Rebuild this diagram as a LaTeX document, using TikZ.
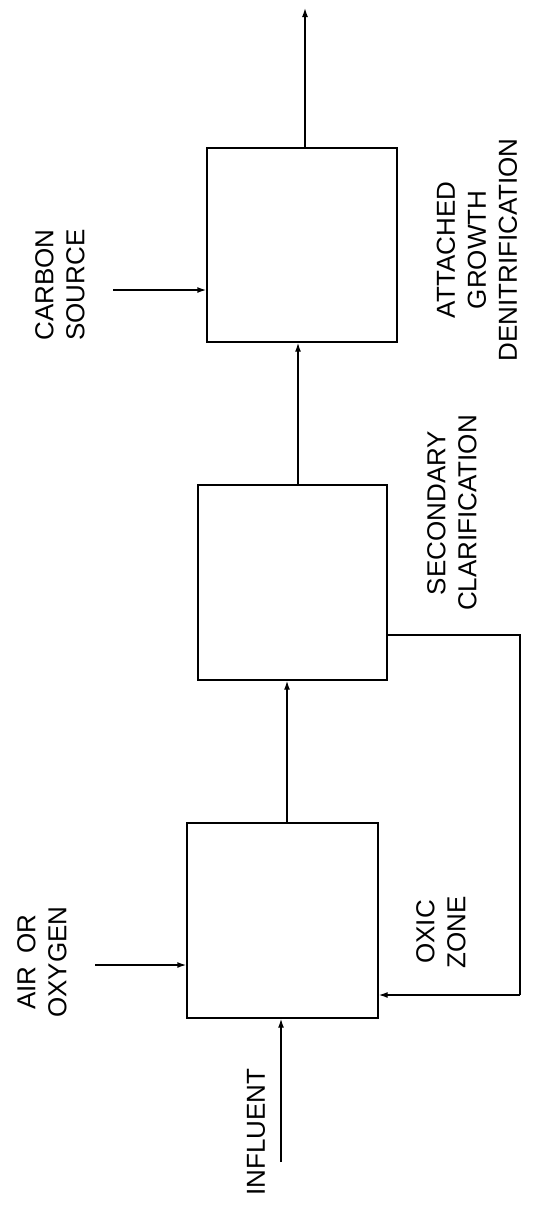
\documentclass[tikz,border=0pt]{standalone}
\usepackage{fontspec}
\setmainfont{Liberation Sans}
\usetikzlibrary{arrows.meta,calc}
\begin{document}
\begin{tikzpicture}[x=1pt,y=-1pt,
  unit/.style={draw,line width=1.4pt,inner sep=0pt},
  lbl/.style={rotate=90,align=center,font=\fontsize{26}{31}\selectfont,inner sep=0pt},
  flow/.style={line width=1.4pt,-{Latex[length=9pt,width=6pt]}},
  pipe/.style={line width=1.4pt}]
\useasboundingbox (0,0) rectangle (537,1205);
\node[unit,minimum width=191pt,minimum height=195pt] (b1) at (282.5,920.5) {};
\node[unit,minimum width=189pt,minimum height=195pt] (b2) at (292.5,582.5) {};
\node[unit,minimum width=190pt,minimum height=194pt] (b3) at (302,245) {};
\coordinate (in) at (281,1162);
\coordinate (air) at (95,965);
\coordinate (carb) at (113,290);
\coordinate (out) at (305,8);
\coordinate (rc1) at (520,635);
\coordinate (rc2) at (520,995);
\draw[flow] (in) -- (in |- b1.south);
\draw[flow] (air) -- (air -| b1.west);
\draw[flow] (287,0 |- b1.north) -- (287,0 |- b2.south);
\draw[flow] (298,0 |- b2.north) -- (298,0 |- b3.south);
\draw[flow] (out |- b3.north) -- (out);
\draw[flow] (carb) -- (carb -| b3.west);
\draw[pipe] (rc1 -| b2.east) -- (rc1) -- (rc2);
\draw[flow] (rc2) -- (rc2 -| b1.east);
\node[lbl] (t1) at (60,285) {CARBON\\SOURCE};
\node[lbl] (t2) at (477,250) {ATTACHED\\GROWTH\\DENITRIFICATION};
\node[lbl] (t3) at (452,513) {SECONDARY\\CLARIFICATION};
\node[lbl] (t4) at (441,932) {OXIC\\ZONE};
\node[lbl] (t5) at (42,962) {AIR\enspace OR\\OXYGEN};
\node[lbl] (t6) at (256,1132) {INFLUENT};
\end{tikzpicture}
\end{document}
